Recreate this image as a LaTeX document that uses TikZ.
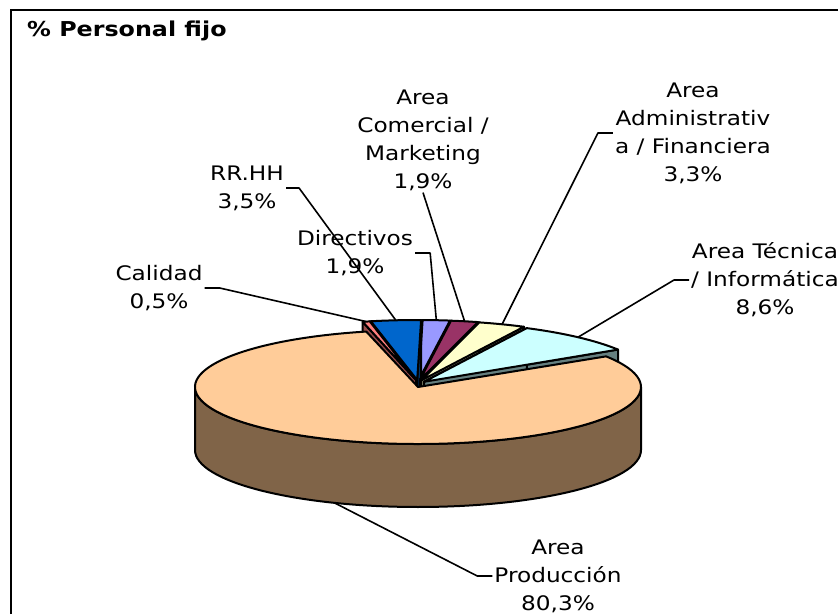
\documentclass[tikz,border=0pt]{standalone}
\usepackage{fontspec}
\setmainfont{DejaVu Sans}[FakeStretch=1.16]
\usepackage{xcolor}
\usepackage{tikz}
\usetikzlibrary{positioning}

\definecolor{produccion}{HTML}{FFCC99}
\definecolor{produccionside}{HTML}{806448}
\definecolor{calidad}{HTML}{FF8080}
\definecolor{calidadside}{HTML}{994C4C}
\definecolor{rrhh}{HTML}{0066CC}
\definecolor{rrhhside}{HTML}{003366}
\definecolor{directivos}{HTML}{9999FF}
\definecolor{directivosside}{HTML}{4C4C80}
\definecolor{comercial}{HTML}{993366}
\definecolor{comercialside}{HTML}{4C1933}
\definecolor{admin}{HTML}{FFFFCC}
\definecolor{adminside}{HTML}{808066}
\definecolor{tecnica}{HTML}{CCFFFF}
\definecolor{tecnicaside}{HTML}{668080}

\begin{document}
\begin{tikzpicture}[
    x=1pt, y=1pt,
    lbl/.style={align=center, inner sep=2pt, font=\fontsize{20}{28}\selectfont},
    titlelbl/.style={anchor=base west, inner sep=0pt, font=\fontsize{20.5}{28}\selectfont\bfseries},
    slice/.style={draw=black, line width=2pt, line join=round},
    leader/.style={draw=black, line width=1.6pt, line join=round},
    frame/.style={draw=black, line width=2.2pt}
]
\useasboundingbox (0,0) rectangle (838,614);

% Frame and title
\draw[frame] (11,0) -- (11,604) -- (838,604);
\node[titlelbl] (titulo) at (27,577) {\% Personal fijo};

% Pie centre
\coordinate (ctr) at (418,227);

% Pulled-out slices, back to front: side walls, then top face
\foreach \s/\e/\top in {82.18/89.02/directivos, 89.02/101.62/rrhh, 75.34/82.18/comercial,
    101.62/103.42/calidad, 63.46/75.34/admin, 32.5/63.46/tecnica} {
  \pgfmathsetmacro\m{(\s+\e)/2}
  \path (ctr) ++(\m:9pt and 7pt) coordinate (o);
  \filldraw[slice, fill=\top side] (o) -- ++(\s:230pt and 60pt) -- ++(0,-63) -- ([yshift=-63pt]o) -- cycle;
  \filldraw[slice, fill=\top side] (o) -- ++(\e:230pt and 60pt) -- ++(0,-63) -- ([yshift=-63pt]o) -- cycle;
  \filldraw[slice, fill=\top] (o) -- ++(\s:230pt and 60pt)
      arc[start angle=\s, end angle=\e, x radius=230pt, y radius=60pt] -- cycle;
  \path (o) ++(\m:230pt and 60pt) coordinate (\top-pt);
}

% Production slice: side and top
\filldraw[slice, fill=produccionside] (195,227)
    arc[start angle=180, end angle=360, x radius=223pt, y radius=57pt] -- ++(0,-63)
    arc[start angle=0, end angle=-180, x radius=223pt, y radius=57pt] -- cycle;
\filldraw[slice, fill=produccion] (ctr) -- ++(103.42:223pt and 57pt)
    arc[start angle=103.42, end angle=392.5, x radius=223pt, y radius=57pt] -- cycle;
\path (ctr) ++(248:223pt and 57pt) ++(0,-63) coordinate (produccion-pt);

% Labels
\node[lbl] (calidad) at (159,326) {Calidad\\0,5\%};
\node[lbl] (rrhh) at (247,426) {RR.HH\\3,5\%};
\node[lbl] (directivos) at (355,361) {Directivos\\1,9\%};
\node[lbl] (comercial) at (423,474) {Area\\Comercial /\\Marketing\\1,9\%};
\node[lbl] (admin) at (693,481) {Area\\Administrativ\\a / Financiera\\3,3\%};
\node[lbl] (tecnica) at (765,334) {Area Técnica\\/ Informática\\8,6\%};
\node[lbl] (produccion) at (558,38) {Area\\Producción\\80,3\%};

% Leader lines
\draw[leader] (calidad.east) -- ++(15,0) -- (calidad-pt);
\draw[leader] (rrhh.east) -- ++(13,0) -- (rrhh-pt);
\draw[leader] (directivos.east) -- ++(15,0) -- (directivos-pt);
\draw[leader] (comercial.south) -- (comercial-pt);
\draw[leader] (admin.west) -- ++(-15,0) -- (admin-pt);
\draw[leader] (tecnica.west) -- ++(-15,0) -- (tecnica-pt);
\draw[leader] (produccion.west) -- ++(-15,0) -- (produccion-pt);

\end{tikzpicture}
\end{document}
